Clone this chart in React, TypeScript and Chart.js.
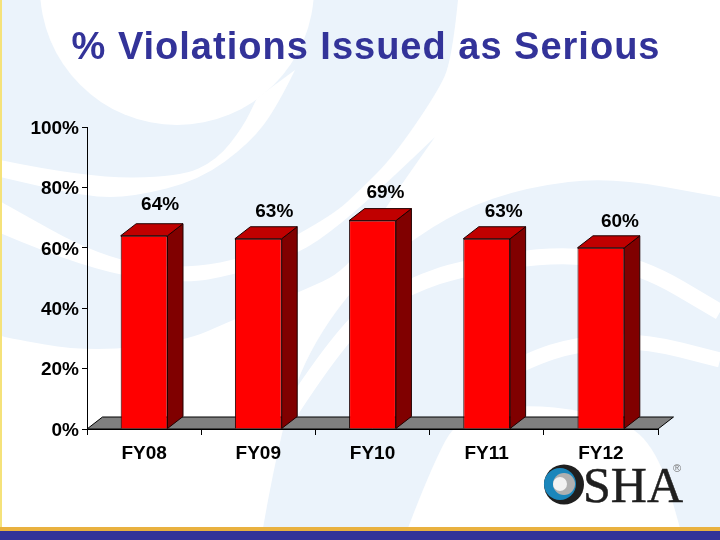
import React, { useEffect, useRef } from "react";
import { Chart, registerables } from "chart.js";

Chart.register(...registerables);

const categories = ["FY08", "FY09", "FY10", "FY11", "FY12"];
const seriesValues = [64, 63, 69, 63, 60];
const yTicks = [0, 20, 40, 60, 80, 100];
const titleText = "% Violations Issued as Serious";

const labelDx = [16, 16, 13, 17, 19];
const labelDy = [-31, -27, -28, -27, -26];

const PALE = "#ebf3fb";
const labelFont = "bold 19px 'Liberation Sans'";

type P = [number, number];

function trace(c: any, pts: P[], start = true) {
  if (start) c.moveTo(pts[0][0], pts[0][1]);
  else c.lineTo(pts[0][0], pts[0][1]);
  for (let i = 1; i < pts.length - 1; i++) {
    const mx = (pts[i][0] + pts[i + 1][0]) / 2;
    const my = (pts[i][1] + pts[i + 1][1]) / 2;
    c.quadraticCurveTo(pts[i][0], pts[i][1], mx, my);
  }
  const last = pts[pts.length - 1];
  c.lineTo(last[0], last[1]);
}

const backdrop = {
  id: "backdrop",
  beforeDraw(chart: any) {
    const c = chart.ctx;
    c.save();
    c.fillStyle = "#ffffff";
    c.fillRect(0, 0, 720, 540);

    c.fillStyle = PALE;
    // upper-left field
    c.beginPath();
    c.moveTo(0, 0);
    trace(c, [[458, 0], [452, 60], [437, 93], [393, 157], [360, 190], [333, 215], [260, 255], [180, 270], [100, 257], [3, 203], [0, 201]], false);
    c.closePath();
    c.fill();

    // crescent under the second swoosh
    c.beginPath();
    trace(c, [[0, 233], [87, 270], [183, 284], [233, 275], [297, 255], [340, 225], [390, 180], [435, 137]]);
    trace(c, [[435, 137], [383, 210], [348, 270], [297, 293], [233, 320], [183, 342], [87, 352], [3, 337], [0, 335]], false);
    c.closePath();
    c.fill();

    // right and lower field
    c.beginPath();
    trace(c, [[263, 528], [273, 470], [297, 372], [349, 290], [405, 245], [460, 210], [527, 187], [610, 177], [720, 197]]);
    c.lineTo(720, 528);
    c.closePath();
    c.fill();

    c.fillStyle = "#ffffff";
    // disc at the top
    c.beginPath();
    c.arc(177, -12, 137, 0, Math.PI * 2);
    c.fill();
    // first swoosh
    c.beginPath();
    trace(c, [[0, 160], [87, 178], [180, 177], [217, 160], [243, 127], [257, 98]]);
    trace(c, [[295, 70], [277, 107], [250, 143], [200, 180], [133, 197], [87, 197], [0, 177]], false);
    c.closePath();
    c.fill();
    // disc behind the logo
    c.beginPath();
    trace(c, [[408, 528], [430, 470], [460, 413], [537, 403], [627, 420], [660, 457], [680, 528]]);
    c.closePath();
    c.fill();

    // swooshes on the right
    c.strokeStyle = "#ffffff";
    c.lineCap = "butt";
    c.lineJoin = "round";
    c.lineWidth = 16;
    c.beginPath();
    trace(c, [[285, 420], [349, 320], [412, 285], [463, 268], [560, 253], [640, 265], [720, 312]]);
    c.stroke();
    c.lineWidth = 15;
    c.beginPath();
    trace(c, [[480, 385], [527, 360], [577, 344], [642, 340], [720, 360]]);
    c.stroke();

    // frame
    c.fillStyle = "#f5e27a";
    c.fillRect(0, 0, 2, 528);
    c.fillStyle = "#e9b13f";
    c.fillRect(0, 527, 720, 4);
    c.fillStyle = "#333399";
    c.fillRect(0, 531, 720, 9);
    c.restore();
  },
};

const titleShift = {
  id: "titleShift",
  afterLayout(chart: any) {
    const tb = chart.titleBlock;
    tb.left = 12;
    tb.right = 720;
    if (!tb.__spaced) {
      tb.__spaced = true;
      const proto = Object.getPrototypeOf(tb);
      tb.draw = function () {
        chart.ctx.letterSpacing = "1px";
        proto.draw.call(this);
        chart.ctx.letterSpacing = "0px";
      };
    }
  },
};

const depth3d = {
  id: "depth3d",
  beforeDatasetsDraw(chart: any) {
    const c = chart.ctx;
    const { left, right, bottom } = chart.chartArea;
    const dx = 15.5;
    const dy = -12;
    c.save();
    c.lineWidth = 1;
    c.strokeStyle = "#000000";
    c.fillStyle = "#808080";
    c.beginPath();
    c.moveTo(left, bottom);
    c.lineTo(left + dx, bottom + dy);
    c.lineTo(right + dx, bottom + dy);
    c.lineTo(right, bottom);
    c.closePath();
    c.fill();
    c.stroke();
    c.restore();
  },
  afterDatasetsDraw(chart: any) {
    const c = chart.ctx;
    const dx = 15.5;
    const dy = -12;
    const meta = chart.getDatasetMeta(0);
    c.save();
    c.lineWidth = 1;
    c.strokeStyle = "#200000";
    meta.data.forEach((bar: any, i: number) => {
      const l = bar.x - bar.width / 2;
      const r = bar.x + bar.width / 2;
      const t = bar.y;
      const b = bar.base;
      c.fillStyle = "#800000";
      c.beginPath();
      c.moveTo(r, t);
      c.lineTo(r + dx, t + dy);
      c.lineTo(r + dx, b + dy);
      c.lineTo(r, b);
      c.closePath();
      c.fill();
      c.stroke();
      c.fillStyle = "#c00000";
      c.beginPath();
      c.moveTo(l, t);
      c.lineTo(l + dx, t + dy);
      c.lineTo(r + dx, t + dy);
      c.lineTo(r, t);
      c.closePath();
      c.fill();
      c.stroke();
      c.fillStyle = "#000000";
      c.font = labelFont;
      c.textAlign = "center";
      c.textBaseline = "middle";
      c.fillText(seriesValues[i] + "%", bar.x + labelDx[i], t + labelDy[i]);
    });
    c.restore();
  },
};

const logo = {
  id: "logo",
  afterDraw(chart: any) {
    const c = chart.ctx;
    c.save();
    c.fillStyle = "#1f1f1f";
    c.beginPath();
    c.arc(564, 484.5, 20, 0, Math.PI * 2);
    c.fill();
    c.fillStyle = "#1b86bb";
    c.beginPath();
    c.arc(560, 484, 16, 0, Math.PI * 2);
    c.fill();
    c.fillStyle = "#b0b0b0";
    c.beginPath();
    c.arc(564, 484, 11, 0, Math.PI * 2);
    c.fill();
    c.fillStyle = "#f2f2f2";
    c.beginPath();
    c.arc(560, 484, 7, 0, Math.PI * 2);
    c.fill();
    c.fillStyle = "#1f1f1f";
    c.strokeStyle = "#1f1f1f";
    c.lineWidth = 0.5;
    c.font = "50px 'Liberation Serif'";
    c.textAlign = "left";
    c.textBaseline = "alphabetic";
    c.fillText("SHA", 583, 502);
    c.strokeText("SHA", 583, 502);
    c.font = "11px 'Liberation Sans'";
    c.textAlign = "center";
    c.textBaseline = "middle";
    c.fillStyle = "#777777";
    c.fillText("®", 677, 469);
    c.restore();
  },
};

export default function App() {
  const ref = useRef<HTMLCanvasElement>(null);
  useEffect(() => {
    const tickFont = { family: "'Liberation Sans'", size: 19, weight: "bold" };
    const chart = new Chart(ref.current!, {
      type: "bar",
      data: {
        labels: categories,
        datasets: [
          {
            data: seriesValues,
            backgroundColor: "#ff0000",
            borderColor: "#200000",
            borderWidth: 1,
            barPercentage: 0.41,
            categoryPercentage: 1,
          },
        ],
      },
      options: {
        responsive: false,
        animation: false,
        layout: { padding: { left: 0, right: 62, top: 0, bottom: 71 } },
        plugins: {
          legend: { display: false },
          tooltip: { enabled: false },
          title: {
            display: true,
            text: titleText,
            color: "#333399",
            font: { family: "'Liberation Sans'", size: 38, weight: "bold" },
            padding: { top: 25.8, bottom: 55.6 },
          },
        },
        scales: {
          x: {
            grid: { drawOnChartArea: false, color: "#000000", tickLength: 6 },
            border: { color: "#000000" },
            ticks: { color: "#000000", font: tickFont, padding: 7, maxRotation: 0 },
            afterFit(s: any) { s.height = 40; },
          },
          y: {
            min: 0,
            max: 100,
            afterBuildTicks(s: any) { s.ticks = yTicks.map((value) => ({ value })); },
            grid: { drawOnChartArea: false, color: "#000000", tickLength: 5 },
            border: { color: "#000000" },
            ticks: { color: "#000000", font: tickFont, padding: 3, labelOffset: 1.5, callback: (v: any) => v + "%" },
            afterFit(s: any) { s.width = 87; },
          },
        },
      },
      plugins: [backdrop, titleShift, depth3d, logo],
    } as any);
    return () => chart.destroy();
  }, []);
  return (
    <div style={{ position: "fixed", left: 0, top: 0, width: 720, height: 540 }}>
      <canvas ref={ref} width={720} height={540} style={{ display: "block", width: 720, height: 540 }} />
    </div>
  );
}
